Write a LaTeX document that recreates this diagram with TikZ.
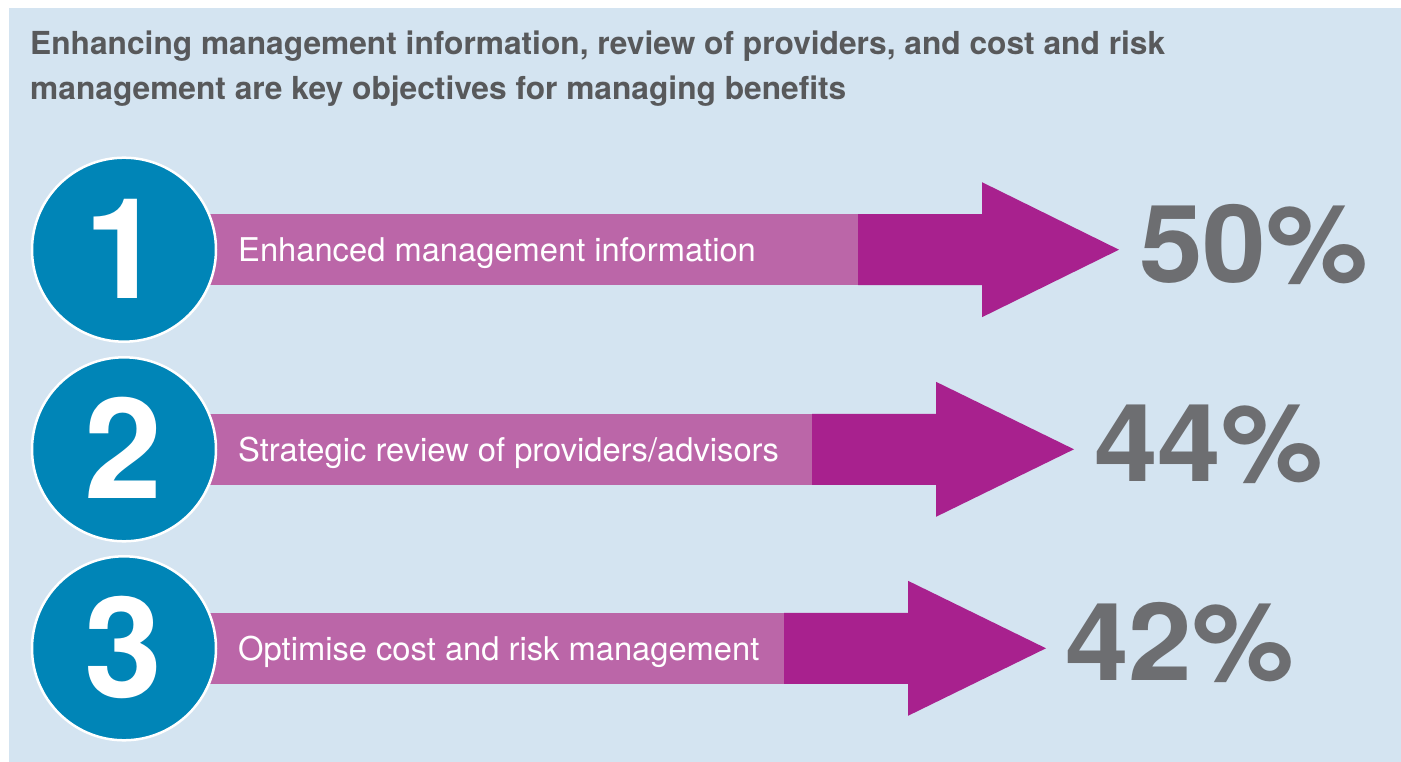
\documentclass[tikz,border=0pt]{standalone}
\usepackage{fontspec}
\setmainfont{TeX Gyre Heros}
\definecolor{panelbg}{HTML}{D4E4F1}
\definecolor{circblue}{HTML}{0085B7}
\definecolor{barlight}{HTML}{BB66A8}
\definecolor{bardark}{HTML}{A8218E}
\definecolor{titlegray}{HTML}{58595B}
\definecolor{pctgray}{HTML}{6D6E71}
\tikzset{
  numcircle/.style={circle, fill=circblue, draw=white, line width=2.5pt, minimum size=184pt, inner sep=0pt},
  numtext/.style={text=white, font=\fontsize{140}{140}\selectfont\bfseries},
  bartext/.style={anchor=base west, inner sep=0pt, text=white, font=\fontsize{32.7}{36}\selectfont},
  pcttext/.style={anchor=base west, inner sep=0pt, text=pctgray, font=\fontsize{108}{110}\selectfont\bfseries},
  titletext/.style={anchor=base west, inner sep=0pt, text=titlegray, font=\fontsize{31.7}{45}\selectfont\bfseries},
}
\begin{document}
\begin{tikzpicture}[x=1pt,y=-1pt]
\useasboundingbox (0,0) rectangle (1401,762);
\fill[panelbg] (9,8) rectangle (1401,762);
\node[titletext] (t1) at (30,55) {Enhancing management information, review of providers, and cost and risk};
\node[titletext] (t2) at (30,100) {management are key objectives for managing benefits};
\foreach \i/\cy/\dk/\hd/\tip/\px/\lab/\pct in {
  1/249.7/858/982/1119/1139/Enhanced management information/50\%,
  2/449.3/812/936/1074/1094/Strategic review of providers\slash advisors/44\%,
  3/648.3/784/908/1046/1065/Optimise cost and risk management/42\%}{
  \fill[barlight] (124,\cy-35.5) rectangle (\dk,\cy+35.5);
  \fill[bardark] (\dk,\cy-35.5) -- (\hd,\cy-35.5) -- (\hd,\cy-67.5) -- (\tip,\cy) -- (\hd,\cy+67.5) -- (\hd,\cy+35.5) -- (\dk,\cy+35.5) -- cycle;
  \node[numcircle] (c\i) at (124,\cy) {};
  \node[numtext] (n\i) at (123,\cy-1) {\i};
  \node[bartext] (b\i) at (238,\cy+11.7) {\lab};
  \node[pcttext] (p\i) at (\px,\cy+32.5) {\scalebox{1.06}[1]{\pct}};
}
\end{tikzpicture}
\end{document}
